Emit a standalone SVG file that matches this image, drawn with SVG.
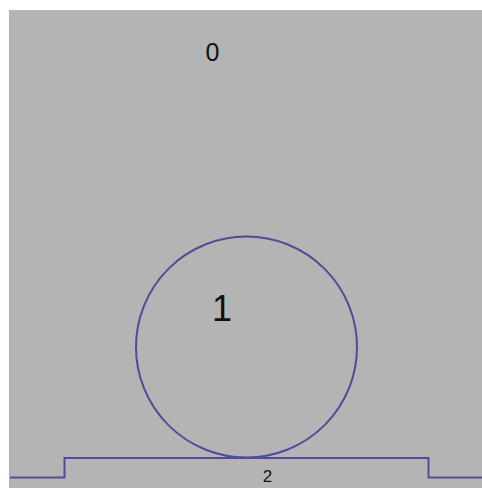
<svg xmlns="http://www.w3.org/2000/svg" width="482" height="488" viewBox="0 0 482 488">
<style>
.shape{fill:none;stroke:#4f4c9a;stroke-width:2}
.lbl{font-family:"Liberation Sans",Arial,sans-serif;fill:#111}
</style>
<rect x="0" y="0" width="482" height="488" fill="#ffffff"/>
<rect x="9" y="10" width="473" height="478" fill="#b4b4b4"/>
<g id="node0">
<text class="lbl" x="212.5" y="61" font-size="25" text-anchor="middle">0</text>
</g>
<g id="node1">
<circle class="shape" cx="246.5" cy="347" r="110.5"/>
<text class="lbl" x="222" y="321" font-size="36" text-anchor="middle">1</text>
</g>
<g id="node2">
<polyline class="shape" points="10,477.5 64.5,477.5 64.5,458 428.5,458 428.5,477.5 482,477.5"/>
<text class="lbl" x="267.5" y="481.5" font-size="17" text-anchor="middle">2</text>
</g>
<g id="connectors"></g>
</svg>
